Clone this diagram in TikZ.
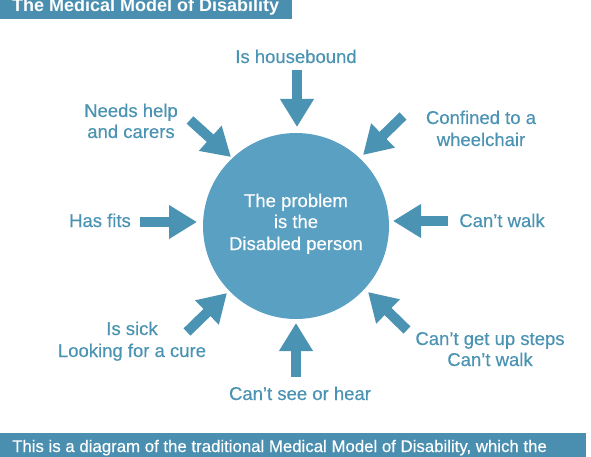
\documentclass[tikz,border=0pt]{standalone}
\usepackage{fontspec}
\setmainfont{Liberation Sans}
\newfontfamily\medfont{Liberation Sans}[FakeBold=0.35]
\usetikzlibrary{arrows.meta}
\definecolor{circ}{HTML}{5AA0C2}
\definecolor{arr}{HTML}{4A93B3}
\definecolor{bar}{HTML}{4B8FB0}
\begin{document}
\begin{tikzpicture}[x=1pt,y=-1pt,
  lbl/.style={text=arr, font=\medfont\fontsize{18.5}{22}\selectfont, anchor=base, inner sep=0pt},
  inlbl/.style={text=white, font=\medfont\fontsize{18.5}{22}\selectfont, anchor=base, inner sep=0pt},
  fat/.style={draw=arr, line width=10pt, -{Triangle[width=32pt,length=28pt]}}]
\useasboundingbox (0,0) rectangle (591,457);
\clip (0,0) rectangle (591,457);
\fill[white] (0,0) rectangle (591,457);
% banners
\fill[bar] (0,-5) rectangle (292,19);
\node[anchor=base west, text=white, font=\bfseries\fontsize{18}{18}\selectfont, inner sep=0pt] (title) at (12,12) {The Medical Model of Disability};
\fill[bar] (0,433) rectangle (586,462);
\node[anchor=base west, text=white, font=\medfont\fontsize{16.8}{16}\selectfont, inner sep=0pt] (cap) at (12,452) {This is a diagram of the traditional Medical Model of Disability, which the};
% circle
\node[circle, fill=circ, minimum size=186pt, inner sep=0pt] (c) at (296,226) {};
\node[inlbl] (c1) at (296,207) {The problem};
\node[inlbl] (c2) at (296,228) {is the};
\node[inlbl] (c3) at (296,250) {Disabled person};
% labels
\node[lbl] (house) at (296,63) {Is housebound};
\node[lbl] (help1) at (131,117) {Needs help};
\node[lbl] (help2) at (131,138) {and carers};
\node[lbl] (conf1) at (481,124) {Confined to a};
\node[lbl] (conf2) at (481,146) {wheelchair};
\node[lbl] (fits) at (100,227) {Has fits};
\node[lbl] (walk) at (502,227) {Can’t walk};
\node[lbl] (sick1) at (132,335) {Is sick};
\node[lbl] (sick2) at (132,357) {Looking for a cure};
\node[lbl] (steps1) at (490,345) {Can’t get up steps};
\node[lbl] (steps2) at (490,366) {Can’t walk};
\node[lbl] (see) at (300,400) {Can’t see or hear};
% arrow ends
\coordinate (tT) at (297,70);   \coordinate (hT) at (297,127);
\coordinate (tB) at (296,377);  \coordinate (hB) at (296,323);
\coordinate (tL) at (140,222);  \coordinate (hL) at (197,222);
\coordinate (tR) at (448,221);  \coordinate (hR) at (393,221);
\coordinate (tTL) at (190,120); \coordinate (hTL) at (231,157);
\coordinate (tTR) at (403,116); \coordinate (hTR) at (363,155);
\coordinate (tBL) at (187,332); \coordinate (hBL) at (227,293);
\coordinate (tBR) at (407,330); \coordinate (hBR) at (368,292);
\foreach \p in {T,B,L,R,TL,TR,BL,BR} \draw[fat] (t\p) -- (h\p);
\end{tikzpicture}
\end{document}
